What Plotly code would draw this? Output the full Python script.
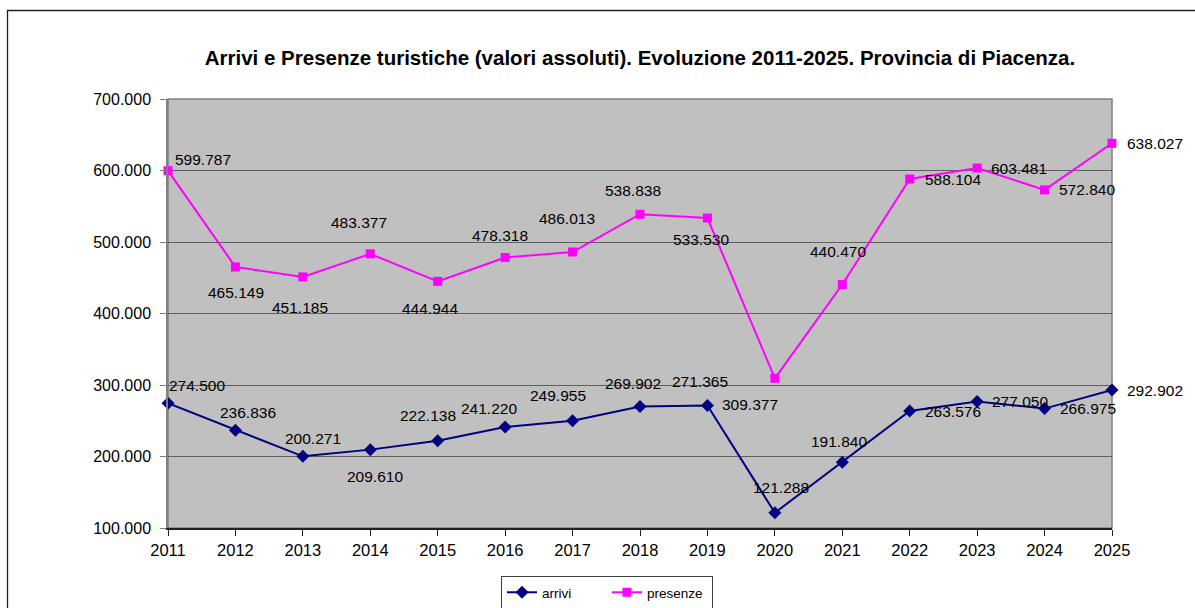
import plotly.graph_objects as go

# ---- data ----
years = [2011, 2012, 2013, 2014, 2015, 2016, 2017, 2018, 2019, 2020, 2021, 2022, 2023, 2024, 2025]
arrivi = [274500, 236836, 200271, 209610, 222138, 241220, 249955, 269902, 271365,
          121288, 191840, 263576, 277050, 266975, 292902]
presenze = [599787, 465149, 451185, 483377, 444944, 478318, 486013, 538838, 533530,
            309377, 440470, 588104, 603481, 572840, 638027]
y_ticks = [100000, 200000, 300000, 400000, 500000, 600000, 700000]
title_text = "Arrivi e Presenze turistiche (valori assoluti). Evoluzione 2011-2025. Provincia di Piacenza."

# label offsets in pixels (dx right, dy down) relative to each point
arrivi_off = [(29, -18), (13, -18), (10, -18), (5, 27), (-10, -25), (-16, -19), (-15, -25),
              (-7, -23), (-7, -24), (6, -25), (-3, -21), (43, 0), (43, 0), (43, 0), (43, 0)]
presenze_off = [(35, -11), (1, 26), (-3, 31), (-11, -31), (-8, 27), (-5, -22), (-6, -34),
                (-7, -24), (-6, 21), (-25, 26), (-4, -33), (43, 0), (42, 0), (42, 0), (43, 0)]

FONT = "Arial, Liberation Sans, sans-serif"


def fmt(v):
    return f"{v:,}".replace(",", ".")


fig = go.Figure()
fig.add_trace(go.Scatter(
    x=years, y=arrivi, name="arrivi", mode="lines+markers",
    line=dict(color="#000080", width=2),
    marker=dict(symbol="diamond", size=10, color="#000080"),
    cliponaxis=False,
))
fig.add_trace(go.Scatter(
    x=years, y=presenze, name="presenze", mode="lines+markers",
    line=dict(color="#FF00FF", width=2),
    marker=dict(symbol="square", size=9, color="#FF00FF"),
    cliponaxis=False,
))

annotations = []
for series, offs in ((arrivi, arrivi_off), (presenze, presenze_off)):
    for x, v, (dx, dy) in zip(years, series, offs):
        annotations.append(dict(
            x=x, y=v, xref="x", yref="y", text=fmt(v), showarrow=False,
            xshift=dx, yshift=-dy, xanchor="center", yanchor="middle",
            font=dict(family=FONT, size=15.5, color="black"),
        ))

W, H = 1195, 608
L, R, T, B = 168, 83, 99, 80
pw, ph = W - L - R, H - T - B

shapes = [
    # outer chart border (extends beyond the picture on right and bottom)
    dict(type="rect", xref="paper", yref="paper",
         x0=-(L - 7.5) / pw, x1=1 + (R + 20) / pw,
         y0=-(B + 20) / ph, y1=1 + (T - 10.5) / ph,
         line=dict(color="#202020", width=1.3), fillcolor="rgba(0,0,0,0)", layer="below"),
    # plot area border
    dict(type="rect", xref="paper", yref="paper", x0=0, x1=1, y0=0, y1=1,
         line=dict(color="#808080", width=1.5), fillcolor="rgba(0,0,0,0)", layer="below"),
]

fig.update_layout(
    width=W, height=H,
    margin=dict(l=L, r=R, t=T, b=B, autoexpand=False),
    paper_bgcolor="white",
    plot_bgcolor="#C0C0C0",
    separators=",.",
    font=dict(family=FONT, color="black"),
    title=dict(text="<b>" + title_text + "</b>", x=640 / W, xanchor="center",
               y=1 - 58 / H, yanchor="middle",
               font=dict(family=FONT, size=20.5, color="black")),
    xaxis=dict(range=[2011, 2025], tickmode="array", tickvals=years,
               ticktext=[str(y) for y in years],
               showgrid=False, zeroline=False, showline=True, linecolor="#202020", linewidth=1.5,
               ticks="outside", ticklen=6, tickcolor="#202020", tickwidth=1,
               tickfont=dict(family=FONT, size=16.5, color="black")),
    yaxis=dict(range=[100000, 700000], tickmode="array", tickvals=y_ticks,
               ticktext=[fmt(v) for v in y_ticks],
               showgrid=True, gridcolor="#5f5f5f", gridwidth=1.3, zeroline=False,
               showline=True, linecolor="#808080", linewidth=1.5,
               ticks="outside", ticklen=6, tickcolor="#808080", tickwidth=1,
               ticklabelstandoff=6,
               tickfont=dict(family=FONT, size=16, color="black")),
    showlegend=True,
    legend=dict(orientation="h", x=(607 - L) / pw, xanchor="center",
                y=(528 - 576) / ph, yanchor="top",
                bordercolor="#404040", borderwidth=1, bgcolor="white",
                font=dict(family=FONT, size=13.5, color="black"),
                entrywidth=60, entrywidthmode="pixels",
                itemwidth=30, tracegroupgap=0),
    annotations=annotations,
    shapes=shapes,
)

fig.write_html("out.html")
